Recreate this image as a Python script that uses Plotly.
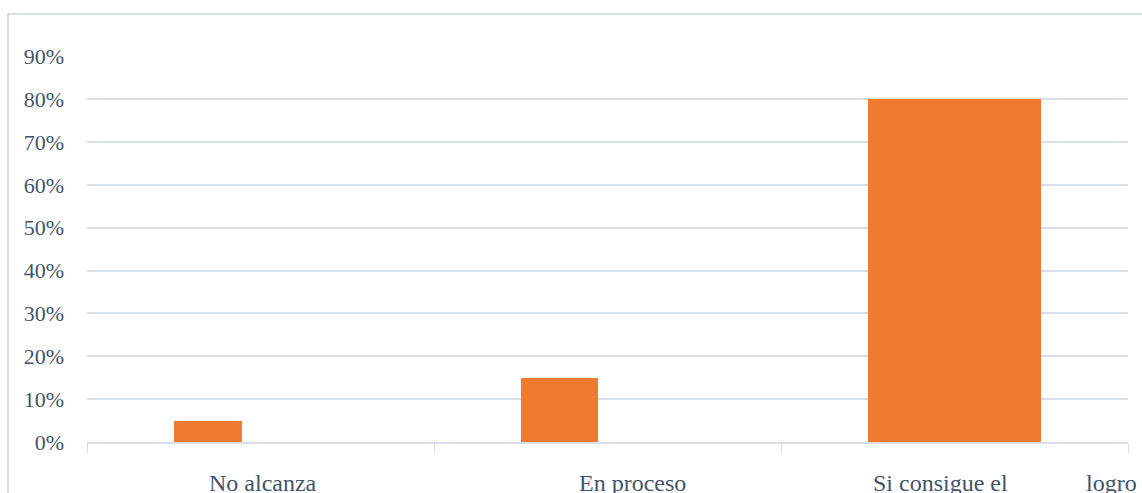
import plotly.graph_objects as go

categories = ["No alcanza", "En proceso", "Si consigue el logro"]
values = [0.05, 0.15, 0.80]
y_ticks = [0, 0.1, 0.2, 0.3, 0.4, 0.5, 0.6, 0.7, 0.8, 0.9]

# styles
bar_widths = [0.196, 0.222, 0.499]
bar_offset = -0.25
bar_color = "#EF7B2E"
text_color = "#44546A"
grid_color = "#D9DEE6"
font_family = "Liberation Serif, Times New Roman, serif"
tick_size = 22
label_size = 24

W, H = 1142, 493
L, R, T, B = 87, 14, 56, 51
plot_w = W - L - R
plot_h = H - T - B

x_pos = list(range(len(categories)))

fig = go.Figure()
fig.add_trace(go.Bar(
    x=x_pos,
    y=values,
    width=bar_widths,
    offset=[bar_offset] * len(categories),
    marker=dict(color=bar_color, line=dict(width=0)),
    hoverinfo="skip",
    showlegend=False,
))

# category labels (annotations to mimic the reference placement)
third_words = categories[2].rsplit(" ", 1)
labels = [
    (x_pos[0], categories[0], "center", 2),
    (x_pos[1], categories[1], "center", 25),
    (x_pos[2], third_words[0], "left", -84),
    (x_pos[2], third_words[1], "right", 184),
]
for x, t, anchor, s in labels:
    fig.add_annotation(
        x=x, y=0, xref="x", yref="y",
        text=t, showarrow=False, xanchor=anchor, yanchor="middle",
        xshift=s, yshift=-41,
        font=dict(family=font_family, size=label_size, color=text_color),
    )

# outer chart-area border (top and left visible)
fig.add_shape(type="rect", xref="paper", yref="paper",
              x0=(8 - L) / plot_w, x1=1.2, y0=-0.5, y1=(plot_h + T - 14) / plot_h,
              line=dict(color=grid_color, width=2), fillcolor="rgba(0,0,0,0)",
              layer="below")

fig.update_layout(
    width=W, height=H,
    margin=dict(l=L, r=R, t=T, b=B),
    paper_bgcolor="white", plot_bgcolor="white",
    font=dict(family=font_family, size=tick_size, color=text_color),
    bargap=0,
    xaxis=dict(
        range=[-0.5, 2.5],
        tickvals=[-0.5, 0.5, 1.5, 2.5],
        showticklabels=False,
        ticks="outside", ticklen=9, tickcolor=grid_color, tickwidth=1,
        showgrid=False, zeroline=False,
        showline=True, linecolor=grid_color, linewidth=2,
        fixedrange=True,
    ),
    yaxis=dict(
        range=[0, 0.901],
        tickvals=y_ticks,
        tickformat=".0%",
        showgrid=True, gridcolor=grid_color, gridwidth=2,
        zeroline=False, showline=False,
        ticks="", ticklabelstandoff=22,
        tickfont=dict(family=font_family, size=tick_size, color=text_color),
        fixedrange=True,
    ),
)

fig.write_html(
    "out.html",
    config={"displayModeBar": False},
    post_script="document.body.style.margin='0';document.body.style.overflow='hidden';",
)
